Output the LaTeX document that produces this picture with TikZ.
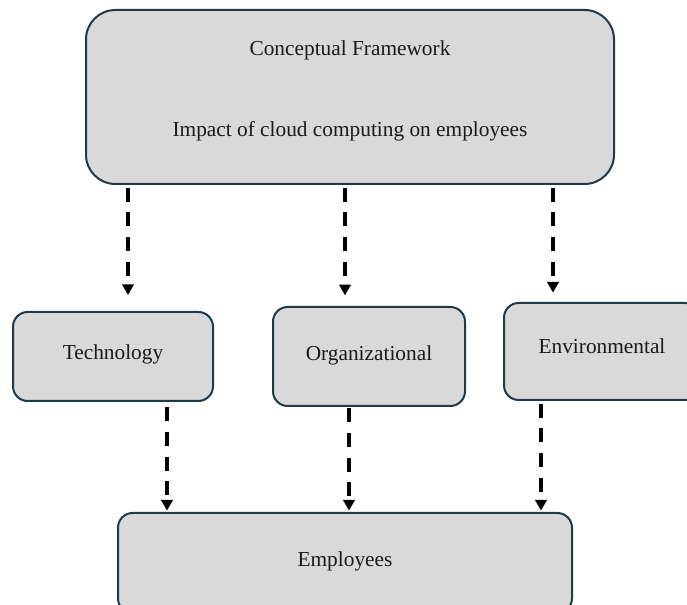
\documentclass[tikz,border=0pt]{standalone}
\usepackage{fontspec}
\setmainfont{Liberation Serif}
\usetikzlibrary{arrows.meta}
\definecolor{boxfill}{HTML}{D9D9D9}
\definecolor{boxline}{HTML}{1E3A4C}
\definecolor{ink}{HTML}{1A1A1A}
\begin{document}
\begin{tikzpicture}[x=0.75pt,y=-0.75pt,
  box/.style={draw=boxline, fill=boxfill, line width=1.5pt, rounded corners=11pt,
    inner sep=0pt, text=ink, font=\fontsize{16}{19}\selectfont},
  label/.style={text=ink, font=\fontsize{16}{19}\selectfont, inner sep=0pt},
  flow/.style={draw=black, line width=2.8pt, dash pattern=on 10.5pt off 8pt,
    -{Triangle[width=8.5pt,length=8pt]}}]
\useasboundingbox (0,0) rectangle (687,605);
\begin{scope}
\clip (0,0) rectangle (687,605);
% main framework box
\node[box, rounded corners=22pt, minimum width=528*0.75pt, minimum height=174*0.75pt] (frame) at (350,97) {};
\node[label] (title) at (350,50) {Conceptual Framework};
\node[label] (topic) at (350,131) {Impact of cloud computing on employees};
% three factor boxes
\node[box, minimum width=200*0.75pt, minimum height=89*0.75pt] (tech) at (113,356.5) {\raisebox{6pt}{Technology}};
\node[box, minimum width=192*0.75pt, minimum height=99*0.75pt] (org) at (369,356.5) {\raisebox{4.5pt}{Organizational}};
\node[box, minimum width=196*0.75pt, minimum height=97*0.75pt] (env) at (602,351.5) {\raisebox{7.5pt}{Environmental}};
% outcome box
\node[box, minimum width=454*0.75pt, minimum height=100*0.75pt] (emp) at (345,563) {\raisebox{6pt}{Employees}};
\end{scope}
% arrow columns
\coordinate (c1) at (128,0);
\coordinate (c2) at (345,0);
\coordinate (c3) at (553,0);
\coordinate (d1) at (167,0);
\coordinate (d2) at (349,0);
\coordinate (d3) at (541,0);
\draw[flow, shorten <=2pt, shorten >=12pt] (frame.south -| c1) -- (tech.north -| c1);
\draw[flow, shorten <=2pt, shorten >=8pt] (frame.south -| c2) -- (org.north -| c2);
\draw[flow, shorten <=2pt, shorten >=7pt] (frame.south -| c3) -- (env.north -| c3);
\draw[flow, shorten <=4pt, shorten >=1pt] (tech.south -| d1) -- (emp.north -| d1);
\draw[flow, shorten <=1pt, shorten >=1pt] (org.south -| d2) -- (emp.north -| d2);
\draw[flow, shorten <=2pt, shorten >=1pt] (env.south -| d3) -- (emp.north -| d3);
\end{tikzpicture}
\end{document}
